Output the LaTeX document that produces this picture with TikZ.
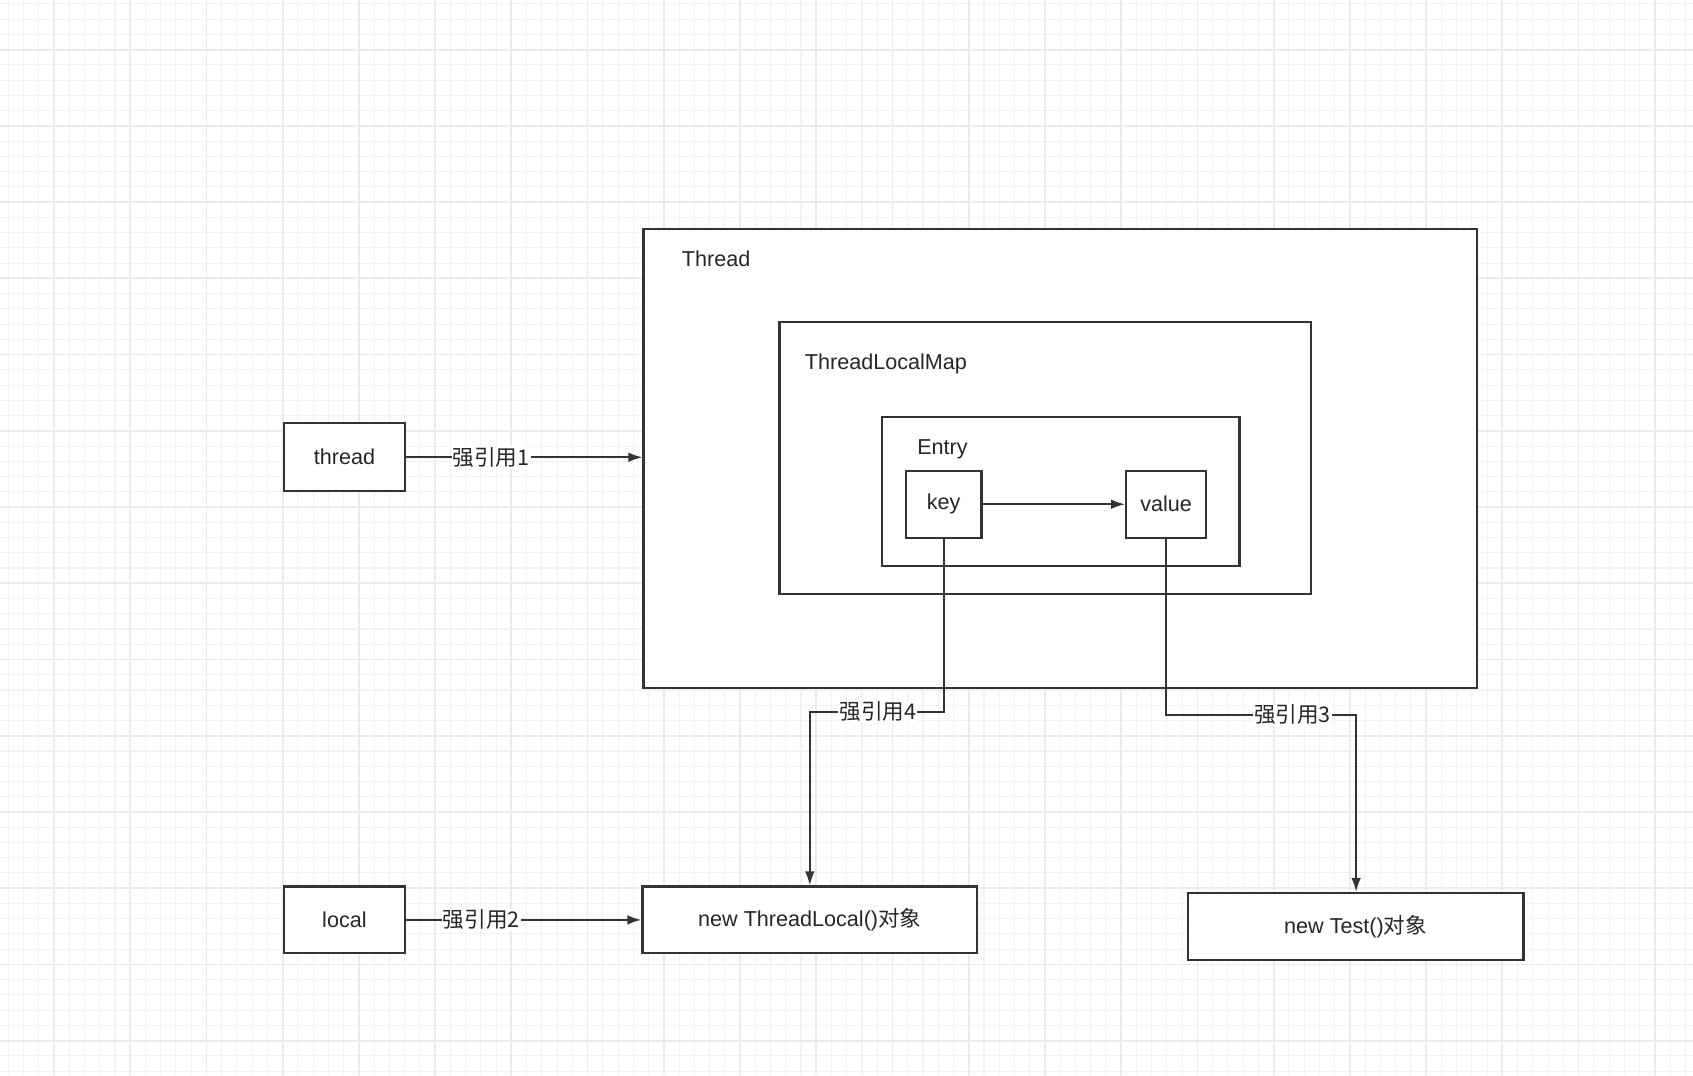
\documentclass[tikz,border=0pt]{standalone}
\usepackage{fontspec}
\setmainfont{Liberation Sans}
\newfontfamily\cjk{Noto Sans CJK SC}
\usetikzlibrary{arrows.meta}
\begin{document}
\begin{tikzpicture}[x=1pt,y=-1pt,
  box/.style={draw=black!80,line width=2pt,fill=white},
  lbl/.style={font=\fontsize{20}{24}\selectfont,text=black!85},
  el/.style={font=\fontsize{20}{24}\selectfont,text=black!85,fill=white,inner sep=1pt},
  con/.style={draw=black!80,line width=1.8pt,-{Latex[length=13pt,width=9pt]}}]
\useasboundingbox (0,0) rectangle (1568,996);
\fill[white] (0,0) rectangle (1568,996);
\foreach \i in {-3,...,111} {
  \draw[black!5,line width=1pt] ({50+\i*14.12},0) -- ({50+\i*14.12},996);
  \draw[black!5,line width=1pt] (0,{46+\i*14.12}) -- (1568,{46+\i*14.12});}
\foreach \i in {-1,...,22} {
  \draw[black!8,line width=1.6pt] ({50+\i*70.6},0) -- ({50+\i*70.6},996);
  \draw[black!8,line width=1.6pt] (0,{46+\i*70.6}) -- (1568,{46+\i*70.6});}
\node[box,minimum width=772pt,minimum height=425pt,anchor=north west] (T) at (595,211) {};
\node[lbl,anchor=west] (Tl) at (628,240) {Thread};
\node[box,minimum width=492pt,minimum height=252pt,anchor=north west] (M) at (721,297) {};
\node[lbl,anchor=west] (Ml) at (742,337) {ThreadLocalMap};
\node[box,minimum width=331pt,minimum height=138pt,anchor=north west] (E) at (816,385) {};
\node[lbl,anchor=west] (El) at (846,416) {Entry};
\node[box,lbl,minimum width=70pt,minimum height=62pt] (key) at (874,467) {key};
\node[box,lbl,minimum width=74pt,minimum height=62pt] (val) at (1080,467) {value};
\node[box,lbl,minimum width=112pt,minimum height=63pt] (th) at (319,423.5) {thread};
\node[box,lbl,minimum width=112pt,minimum height=62pt] (lo) at (319,852) {local};
\node[box,lbl,minimum width=310pt,minimum height=62pt] (ntl) at (750,852) {new ThreadLocal()\cjk 对象};
\node[box,lbl,minimum width=311pt,minimum height=62pt] (nt) at (1255.5,858) {new Test()\cjk 对象};
\draw[con] (key) -- (val);
\draw[con] (th) -- (T.west |- th) node[el,pos=0.36] {\cjk 强引用1};
\draw[con] (lo) -- (ntl) node[el,pos=0.32] {\cjk 强引用2};
\coordinate (k1) at (874,659); \coordinate (k2) at (750,659);
\draw[con] (key.south) -- (k1) -- (k2) -- (ntl.north);
\node[el] at (813,659) {\cjk 强引用4};
\coordinate (v1) at (1080,662); \coordinate (v2) at (1256,662);
\draw[con] (val.south) -- (v1) -- (v2) -- (v2 |- nt.north);
\node[el] at (1197,662) {\cjk 强引用3};
\end{tikzpicture}
\end{document}
